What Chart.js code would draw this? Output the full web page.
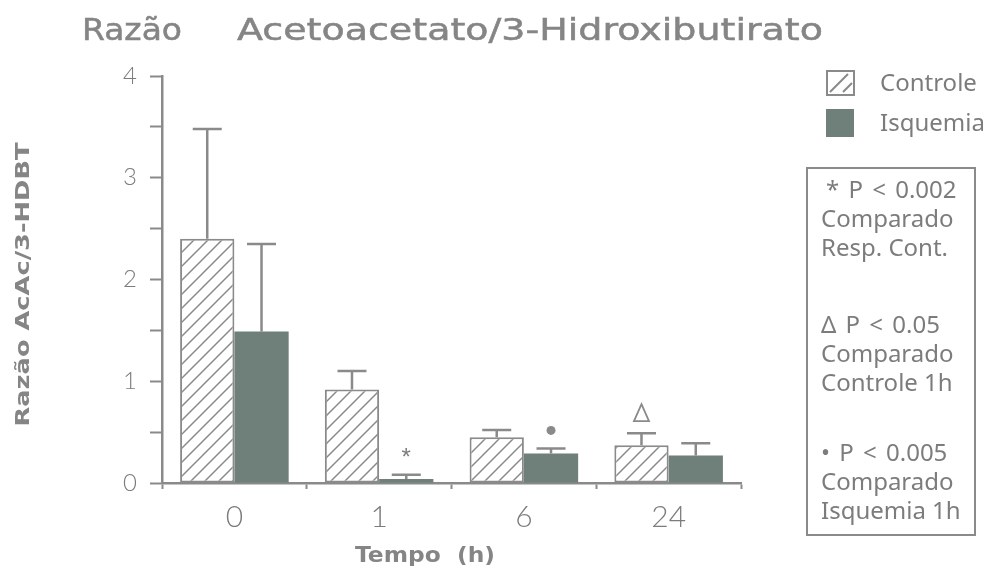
<!DOCTYPE html>
<html>
<head>
<meta charset="utf-8">
<script src="https://cdn.jsdelivr.net/npm/chart.js@4/dist/chart.umd.min.js"></script>
<style>
  body { margin: 0; background: #fff; }
  #wrap { width: 987px; height: 572px; }
</style>
</head>
<body>
<div id="wrap"><canvas id="ratioChart" width="987" height="572"></canvas></div>
<script>
// values
var categories = ['0', '1', '6', '24'];
var controleValues = [2.40, 0.92, 0.45, 0.37];
var controleErrors = [1.08, 0.18, 0.07, 0.12];
var isquemiaValues = [1.49, 0.04, 0.29, 0.27];
var isquemiaErrors = [0.86, 0.04, 0.05, 0.12];
var seriesNames = ['Controle', 'Isquemia'];
// significance marks: which series / which time point
var marks = [
  { series: 1, index: 1, symbol: 'star' },
  { series: 1, index: 2, symbol: 'dot' },
  { series: 0, index: 3, symbol: 'triangle' }
];
var noteLines = [
  ['* P < 0.002', 'Comparado', 'Resp. Cont.'],
  ['\u0394 P < 0.05', 'Comparado', 'Controle 1h'],
  ['\u2022 P < 0.005', 'Comparado', 'Isquemia 1h']
];

var GRAY = '#8a8a8a';
var TEXT = '#7c7c7c';
var DARK = '#6f7f7a';

function hatchPattern() {
  var s = 14;
  var c = document.createElement('canvas');
  c.width = s; c.height = s;
  var g = c.getContext('2d');
  g.fillStyle = '#fff';
  g.fillRect(0, 0, s, s);
  g.strokeStyle = GRAY;
  g.lineWidth = 1.5;
  g.beginPath();
  g.moveTo(0, s); g.lineTo(s, 0);
  g.moveTo(-2, 2); g.lineTo(2, -2);
  g.moveTo(s - 2, s + 2); g.lineTo(s + 2, s - 2);
  g.stroke();
  return document.getElementById('ratioChart').getContext('2d').createPattern(c, 'repeat');
}
var hatch = hatchPattern();

// stretch text horizontally so it spans x0..x1
function stretchText(ctx, str, x0, x1, y, outline) {
  var w = ctx.measureText(str).width;
  ctx.save();
  ctx.translate(x0, y);
  ctx.scale((x1 - x0) / w, 1);
  ctx.fillText(str, 0, 0);
  if (outline) {
    ctx.lineWidth = outline;
    ctx.strokeStyle = ctx.fillStyle;
    ctx.strokeText(str, 0, 0);
  }
  ctx.restore();
}

var extras = {
  id: 'extras',
  afterDatasetsDraw: function(chart) {
    var ctx = chart.ctx;
    var y = chart.scales.y;
    var errs = [controleErrors, isquemiaErrors];
    var vals = [controleValues, isquemiaValues];
    ctx.save();
    ctx.strokeStyle = GRAY;
    ctx.lineWidth = 2.5;
    for (var d = 0; d < 2; d++) {
      var meta = chart.getDatasetMeta(d);
      meta.data.forEach(function(bar, i) {
        var top = y.getPixelForValue(vals[d][i] + errs[d][i]);
        ctx.beginPath();
        ctx.moveTo(bar.x, bar.y);
        ctx.lineTo(bar.x, top);
        ctx.moveTo(bar.x - 14.5, top);
        ctx.lineTo(bar.x + 14.5, top);
        ctx.stroke();
      });
    }
    // significance marks above the error bars
    marks.forEach(function(m) {
      var bar = chart.getDatasetMeta(m.series).data[m.index];
      var top = y.getPixelForValue(vals[m.series][m.index] + errs[m.series][m.index]);
      var cy = top - 20;
      if (m.symbol === 'star') {
        ctx.fillStyle = TEXT;
        ctx.font = '24px "Liberation Sans"';
        ctx.textAlign = 'center';
        ctx.textBaseline = 'middle';
        ctx.fillText('*', bar.x, cy + 4);
      } else if (m.symbol === 'dot') {
        ctx.fillStyle = GRAY;
        ctx.beginPath();
        ctx.arc(bar.x, cy + 2, 4.5, 0, Math.PI * 2);
        ctx.fill();
      } else {
        ctx.lineWidth = 1.8;
        ctx.beginPath();
        ctx.moveTo(bar.x, cy - 9);
        ctx.lineTo(bar.x + 7.5, cy + 8);
        ctx.lineTo(bar.x - 7.5, cy + 8);
        ctx.closePath();
        ctx.stroke();
      }
    });
    ctx.restore();
  },
  afterDraw: function(chart) {
    var ctx = chart.ctx;
    var area = chart.chartArea;
    ctx.save();
    // title
    ctx.fillStyle = '#858585';
    ctx.textBaseline = 'alphabetic';
    ctx.textAlign = 'left';
    ctx.font = '30px "DejaVu Sans"';
    stretchText(ctx, 'Raz\u00e3o', 82, 182, 40, 0.5);
    stretchText(ctx, 'Acetoacetato/3-Hidroxibutirato', 237, 823, 40, 0.5);

    // y axis title
    ctx.save();
    ctx.translate(24, (area.top + area.bottom) / 2 + 5);
    ctx.rotate(-Math.PI / 2);
    ctx.font = 'bold 20px "DejaVu Sans"';
    ctx.textBaseline = 'middle';
    stretchText(ctx, 'Raz\u00e3o AcAc/3-HDBT', -142, 142, 0);
    ctx.restore();

    // x axis title
    ctx.font = 'bold 21px "DejaVu Sans"';
    ctx.textBaseline = 'middle';
    stretchText(ctx, 'Tempo  (h)', 355, 495, 557);

    // legend
    ctx.strokeStyle = GRAY;
    ctx.lineWidth = 2;
    ctx.fillStyle = '#fff';
    ctx.fillRect(827, 71, 27, 24);
    ctx.strokeRect(827, 71, 27, 24);
    ctx.beginPath();
    ctx.moveTo(830, 92); ctx.lineTo(848, 74);
    ctx.moveTo(843, 92); ctx.lineTo(852, 83);
    ctx.stroke();
    ctx.fillStyle = DARK;
    ctx.fillRect(826, 109, 28, 28);
    ctx.fillStyle = TEXT;
    ctx.font = '24px "Noto Sans"';
    ctx.fillText(seriesNames[0], 880, 84);
    ctx.fillText(seriesNames[1], 880, 124);

    // note box
    ctx.strokeStyle = GRAY;
    ctx.lineWidth = 2;
    ctx.strokeRect(807, 168, 168, 367);
    ctx.font = '24px "Noto Sans"';
    var starts = [191, 326, 454];
    noteLines.forEach(function(group, gi) {
      group.forEach(function(line, li) {
        var ly = starts[gi] + li * 29;
        ctx.wordSpacing = li === 0 ? '3px' : '0px';
        ctx.fillText(line, li === 0 && gi === 0 ? 826 : 821, ly);
      });
    });
    ctx.wordSpacing = '0px';
    ctx.restore();
  }
};

new Chart(document.getElementById('ratioChart'), {
  type: 'bar',
  data: {
    labels: categories,
    datasets: [
      {
        label: seriesNames[0],
        data: controleValues,
        backgroundColor: hatch,
        borderColor: GRAY,
        borderWidth: 2,
        borderSkipped: false
      },
      {
        label: seriesNames[1],
        data: isquemiaValues,
        backgroundColor: DARK,
        borderWidth: 0
      }
    ]
  },
  options: {
    responsive: false,
    animation: false,
    layout: { padding: { top: 76, right: 246, left: 0, bottom: 0 } },
    plugins: {
      legend: { display: false },
      tooltip: { enabled: false }
    },
    datasets: { bar: { categoryPercentage: 0.75, barPercentage: 1.0 } },
    scales: {
      x: {
        afterFit: function(scale) { scale.height = 89; },
        grid: { offset: true, drawOnChartArea: false, tickLength: 6, tickColor: GRAY, tickWidth: 2 },
        border: { color: GRAY, width: 2.5 },
        ticks: { color: TEXT, padding: 10, font: { family: 'Lato', size: 30, weight: 300 } }
      },
      y: {
        min: 0,
        max: 4,
        afterFit: function(scale) { scale.width = 162; },
        grid: { drawOnChartArea: false, tickLength: 12, tickColor: GRAY, tickWidth: 2 },
        border: { color: GRAY, width: 2.5 },
        ticks: {
          stepSize: 0.5,
          color: TEXT,
          padding: 13,
          font: { family: 'Lato', size: 24, weight: 300 },
          callback: function(v) { return Number.isInteger(v) ? v : ''; }
        }
      }
    }
  },
  plugins: [extras]
});
</script>
</body>
</html>
